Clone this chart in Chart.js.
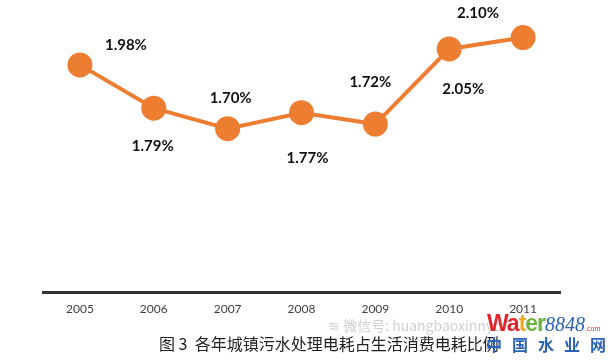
<!DOCTYPE html>
<html>
<head>
<meta charset="utf-8">
<script src="https://cdn.jsdelivr.net/npm/chart.js@4.4.0/dist/chart.umd.min.js"></script>
<style>
  html, body { margin: 0; padding: 0; background: #fff; }
  #wrap { position: relative; width: 614px; height: 363px; overflow: hidden; }
  #box { position: absolute; left: 0; top: 0; width: 614px; height: 325px; }
  .caption { position: absolute; left: 159px; top: 331px; font-family: "Noto Sans CJK SC", sans-serif; font-size: 16px; color: #222; white-space: nowrap; line-height: 24px; }
  .wechat { position: absolute; left: 328px; top: 315px; font-family: "Noto Sans CJK SC", sans-serif; font-size: 14px; color: #d0d0d0; white-space: nowrap; line-height: 20px; }
  .logo { position: absolute; left: 487px; top: 311px; white-space: nowrap; line-height: 24px; }
  .logo .w { font-family: "Liberation Sans", sans-serif; font-weight: bold; font-size: 23px; letter-spacing: -1px; }
  .logo .n { font-family: "Liberation Serif", serif; font-style: italic; font-size: 20px; color: #2a62b8; }
  .logo .c { font-family: "Liberation Sans", sans-serif; font-size: 7px; color: #d9302a; }
  .cn { position: absolute; left: 486px; top: 332px; font-family: "Noto Sans CJK SC", sans-serif; font-weight: bold; font-size: 16px; color: #2a62b8; letter-spacing: 10px; white-space: nowrap; line-height: 24px; }
</style>
</head>
<body>
<div id="wrap">
  <div id="box"><canvas id="myChart"></canvas></div>
  <div class="wechat">&#8779; 微信号: huangbaoxinnyc</div>
  <div class="caption">图 3&nbsp; 各年城镇污水处理电耗占生活消费电耗比例</div>
  <div class="logo"><span class="w"><span style="color:#e2252b">Wa</span><span style="color:#f2a81d">t</span><span style="color:#6cb33f">er</span></span><span class="n">8848</span><span class="c">.com</span></div>
  <div class="cn">中国水业网</div>
</div>
<script>
var ctx = document.getElementById('myChart').getContext('2d');

// Data
var years = ['2005', '2006', '2007', '2008', '2009', '2010', '2011'];
var ratios = [1.98, 1.79, 1.70, 1.77, 1.72, 2.05, 2.10];

// label offsets (dx, dy) from each point, like in the original figure
var labelDx = [46, -1, 3, 6, -5, 14, -45];
var labelDy = [-20, 38, -30, 45, -42, 40, -24];

var orange = '#ED7D31';

// Plugin for value labels
var valueLabels = {
    id: 'valueLabels',
    afterDatasetsDraw: function(chart) {
        var c = chart.ctx;
        var meta = chart.getDatasetMeta(0);
        c.save();
        c.font = 'bold 15px Lato, "Liberation Sans", sans-serif';
        c.fillStyle = '#111';
        c.textAlign = 'center';
        c.textBaseline = 'middle';
        meta.data.forEach(function(pt, i) {
            c.fillText(ratios[i].toFixed(2) + '%', pt.x + labelDx[i], pt.y + labelDy[i]);
        });
        c.restore();
    }
};

var myChart = new Chart(ctx, {
    type: 'line',
    data: {
        labels: years,
        datasets: [{
            data: ratios,
            borderColor: orange,
            backgroundColor: orange,
            borderWidth: 4,
            pointRadius: 12.5,
            pointBackgroundColor: orange,
            pointBorderWidth: 0,
            pointHoverRadius: 12.5,
            tension: 0
        }]
    },
    options: {
        responsive: true,
        maintainAspectRatio: false,
        animation: false,
        events: [],
        layout: {
            padding: { left: 43, right: 54, top: 0, bottom: 0 }
        },
        plugins: {
            legend: { display: false },
            tooltip: { enabled: false }
        },
        scales: {
            x: {
                offset: true,
                grid: { display: false, drawTicks: false },
                border: { display: true, color: '#333', width: 3 },
                ticks: {
                    color: '#404040',
                    padding: 9,
                    font: { family: 'Lato, "Liberation Sans", sans-serif', size: 12 }
                }
            },
            y: {
                display: false,
                min: 0.98,
                max: 2.21
            }
        }
    },
    plugins: [valueLabels]
});
</script>
</body>
</html>
